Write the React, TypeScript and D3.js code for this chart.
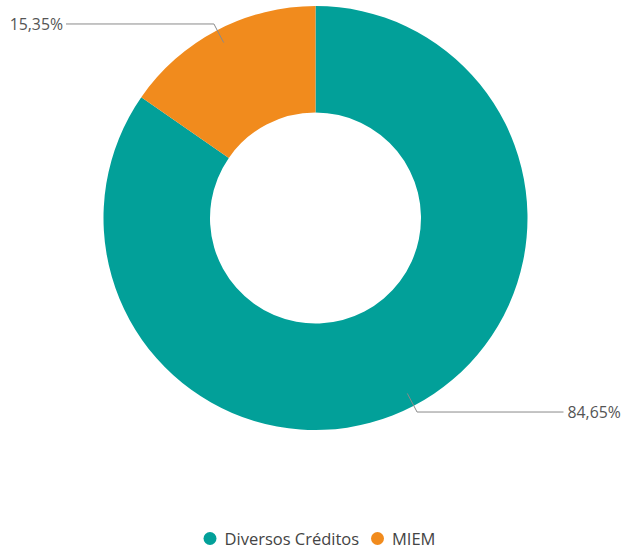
import React, { useEffect, useRef } from 'react';
import * as d3 from 'd3';

const categories = ['Diversos Créditos', 'MIEM'];
const values = [84.65, 15.35];
const labels = ['84,65%', '15,35%'];
const colors = ['#02A099', '#F18B1D'];

const W = 623;
const H = 555;

const App: React.FC = () => {
  const svgRef = useRef<SVGSVGElement>(null);

  useEffect(() => {
    if (!svgRef.current) return;
    const svg = d3.select(svgRef.current);
    svg.selectAll('*').remove();

    const cx = 315.5;
    const cy = 218;
    const outerR = 212;
    const innerR = 105.5;
    const font = "'Segoe UI', 'Open Sans', 'Noto Sans', sans-serif";

    const pie = d3.pie<number>().sort(null).value(d => d);
    const arcs = pie(values);
    const arc = d3.arc<d3.PieArcDatum<number>>().innerRadius(innerR).outerRadius(outerR);

    const g = svg.append('g').attr('transform', `translate(${cx},${cy})`);

    g.selectAll('path.slice')
      .data(arcs)
      .join('path')
      .attr('class', 'slice')
      .attr('d', arc)
      .attr('fill', (_, i) => colors[i]);

    // Leader lines and labels
    const pt = (a: number, r: number) => [r * Math.sin(a), -r * Math.cos(a)];
    arcs.forEach((d, i) => {
      const mid = (d.startAngle + d.endAngle) / 2;
      const [x0, y0] = pt(mid, 198);
      const [x1, y1] = pt(mid, 219);
      const right = x1 > 0;
      const x2 = right ? 248 : -249.5;
      g.append('polyline')
        .attr('points', `${x0},${y0} ${x1},${y1} ${x2},${y1}`)
        .attr('fill', 'none')
        .attr('stroke', '#8a8a8a')
        .attr('stroke-width', 1);
      g.append('text')
        .attr('x', right ? x2 + 4 : x2 - 3)
        .attr('y', y1 + 2)
        .attr('dominant-baseline', 'middle')
        .attr('text-anchor', right ? 'start' : 'end')
        .attr('font-family', font)
        .attr('font-size', 15.8)
        .attr('fill', '#555')
        .text(labels[i]);
    });

    // Legend
    const legend = svg.append('g').attr('font-family', font).attr('font-size', 16.5);
    const legendX = [210, 377.5];
    categories.forEach((c, i) => {
      legend.append('circle')
        .attr('cx', legendX[i])
        .attr('cy', 538.5)
        .attr('r', 6.5)
        .attr('fill', colors[i]);
      legend.append('text')
        .attr('x', legendX[i] + 14.5)
        .attr('y', 544.5)
        .attr('fill', '#444')
        .text(c);
    });
  }, []);

  return (
    <svg
      ref={svgRef}
      width={W}
      height={H}
      style={{ position: 'absolute', left: 0, top: 0, background: '#fff' }}
    />
  );
};

export default App;
